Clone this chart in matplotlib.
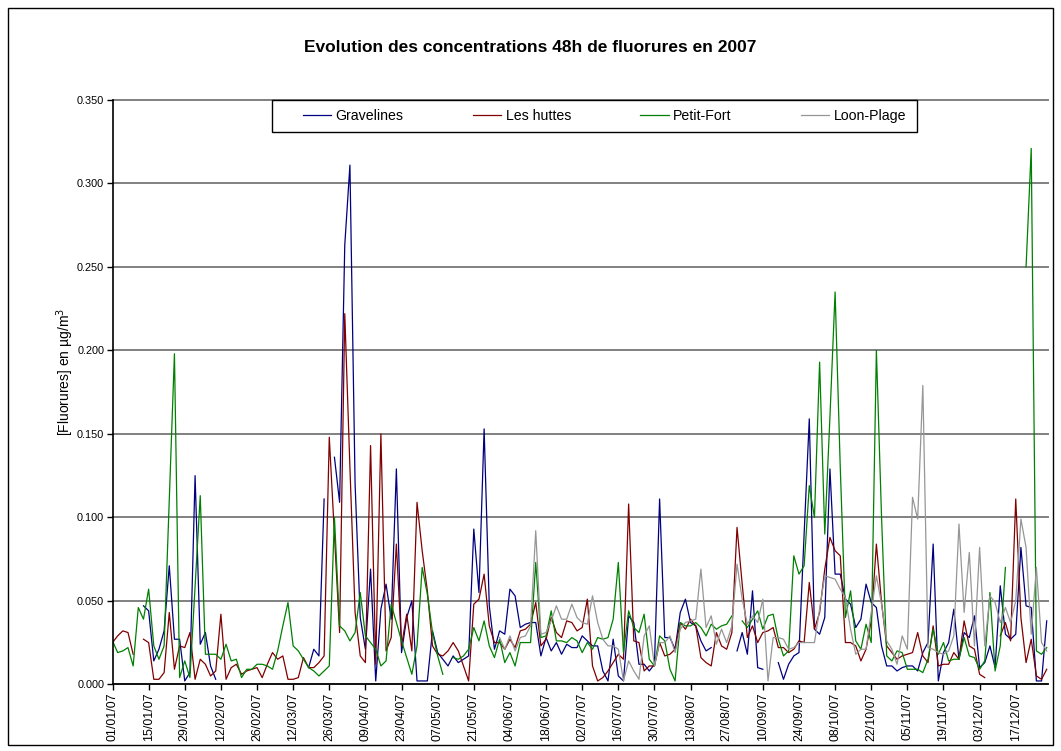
import numpy as np
import pandas as pd
import matplotlib
matplotlib.use("Agg")
import matplotlib.pyplot as plt
import matplotlib.dates as mdates
from matplotlib.patches import Rectangle
from matplotlib.ticker import FormatStrFormatter, MultipleLocator

plt.rcParams['font.family'] = ['Liberation Sans', 'DejaVu Sans']

# one 48h sample every two days
dates = pd.date_range('2007-01-01', periods=182, freq='2D')

gravelines = [
    None, None, None, None, None, None, 0.047, 0.044, 0.014, 0.021,
    0.032, 0.071, 0.027, 0.027, 0.002, 0.007, 0.125, 0.024, 0.031, 0.011,
    0.003, None, None, None, None, None, None, None, None, None,
    None, None, None, None, None, None, None, None, 0.010, 0.021,
    0.017, 0.111, None, 0.136, 0.109, 0.263, 0.311, 0.120, 0.040, 0.021,
    0.069, 0.002, 0.045, 0.060, 0.039, 0.129, 0.019, 0.040, 0.050, 0.002,
    0.002, 0.002, 0.032, 0.019, 0.015, 0.011, 0.017, 0.013, 0.015, 0.017,
    0.093, 0.055, 0.153, 0.047, 0.021, 0.032, 0.030, 0.057, 0.053, 0.034,
    0.036, 0.037, 0.037, 0.017, 0.028, 0.020, 0.025, 0.018, 0.024, 0.022,
    0.022, 0.029, 0.026, 0.023, 0.023, 0.008, 0.002, 0.027, 0.005, 0.002,
    0.041, 0.037, 0.012, 0.012, 0.008, 0.012, 0.111, 0.028, 0.028, 0.021,
    0.043, 0.051, 0.037, 0.035, 0.026, 0.020, 0.022, None, None, None,
    None, 0.020, 0.031, 0.018, 0.056, 0.010, 0.009, None, None, 0.013,
    0.003, 0.012, 0.017, 0.019, 0.090, 0.159, 0.033, 0.030, 0.040, 0.129,
    0.066, 0.066, 0.051, 0.048, 0.034, 0.039, 0.060, 0.049, 0.046, 0.023,
    0.011, 0.011, 0.008, 0.010, 0.011, 0.011, 0.008, 0.019, 0.025, 0.084,
    0.002, 0.019, 0.025, 0.045, 0.015, 0.031, 0.028, 0.041, 0.010, 0.013,
    0.023, 0.010, 0.059, 0.030, 0.027, 0.030, 0.082, 0.047, 0.046, 0.002,
    0.002, 0.038,
]

les_huttes = [
    0.025, 0.029, 0.032, 0.031, 0.018, None, 0.027, 0.025, 0.003, 0.003,
    0.007, 0.043, 0.009, 0.023, 0.022, 0.031, 0.003, 0.015, 0.012, 0.005,
    0.008, 0.042, 0.003, 0.010, 0.012, 0.006, 0.008, 0.009, 0.010, 0.004,
    0.012, 0.019, 0.015, 0.017, 0.003, 0.003, 0.004, 0.016, 0.010, 0.010,
    0.013, 0.017, 0.148, 0.090, 0.031, 0.222, 0.130, 0.043, 0.017, 0.013,
    0.143, 0.012, 0.150, 0.020, 0.028, 0.084, 0.023, 0.042, 0.020, 0.109,
    0.080, 0.056, 0.023, 0.018, 0.017, 0.020, 0.025, 0.020, 0.011, 0.002,
    0.048, 0.051, 0.066, 0.035, 0.025, 0.025, 0.021, 0.027, 0.022, 0.032,
    0.033, 0.036, 0.049, 0.023, 0.027, 0.040, 0.031, 0.028, 0.038, 0.037,
    0.032, 0.034, 0.051, 0.011, 0.002, 0.004, 0.008, 0.013, 0.018, 0.015,
    0.108, 0.026, 0.025, 0.008, 0.011, 0.011, 0.025, 0.017, 0.018, 0.021,
    0.037, 0.033, 0.039, 0.035, 0.016, 0.013, 0.011, 0.031, 0.023, 0.021,
    0.031, 0.094, 0.060, 0.028, 0.035, 0.025, 0.031, 0.032, 0.034, 0.022,
    0.022, 0.019, 0.021, 0.026, 0.025, 0.061, 0.033, 0.043, 0.069, 0.088,
    0.080, 0.077, 0.025, 0.025, 0.023, 0.014, 0.021, 0.038, 0.084, 0.049,
    0.023, 0.019, 0.015, 0.017, 0.018, 0.019, 0.031, 0.017, 0.013, 0.035,
    0.011, 0.012, 0.012, 0.019, 0.015, 0.038, 0.023, 0.021, 0.006, 0.004,
    None, None, 0.029, 0.037, 0.026, 0.111, 0.040, 0.013, 0.027, 0.005,
    0.003, 0.009,
]

petit_fort = [
    0.026, 0.019, 0.020, 0.022, 0.011, 0.046, 0.039, 0.057, 0.023, 0.015,
    0.023, 0.110, 0.198, 0.004, 0.014, 0.004, 0.058, 0.113, 0.018, 0.018,
    0.018, 0.015, 0.024, 0.014, 0.015, 0.004, 0.009, 0.009, 0.012, 0.012,
    0.011, 0.009, 0.020, 0.035, 0.049, 0.023, 0.020, 0.015, 0.010, 0.008,
    0.005, 0.008, 0.011, 0.100, 0.035, 0.032, 0.026, 0.031, 0.055, 0.029,
    0.025, 0.021, 0.011, 0.014, 0.048, 0.037, 0.026, 0.016, 0.006, 0.023,
    0.070, 0.054, 0.031, 0.017, 0.006, None, 0.016, 0.015, 0.017, 0.021,
    0.034, 0.026, 0.038, 0.023, 0.016, 0.027, 0.013, 0.019, 0.011, 0.025,
    0.025, 0.025, 0.073, 0.028, 0.029, 0.044, 0.026, 0.026, 0.025, 0.028,
    0.026, 0.019, 0.025, 0.021, 0.028, 0.027, 0.028, 0.039, 0.073, 0.019,
    0.044, 0.034, 0.031, 0.042, 0.015, 0.011, 0.029, 0.026, 0.009, 0.002,
    0.037, 0.035, 0.035, 0.037, 0.034, 0.029, 0.036, 0.033, 0.035, 0.036,
    0.041, None, 0.038, 0.034, 0.039, 0.044, 0.033, 0.041, 0.042, 0.027,
    0.017, 0.020, 0.077, 0.066, 0.071, 0.119, 0.100, 0.193, 0.090, 0.160,
    0.235, 0.130, 0.040, 0.056, 0.026, 0.021, 0.036, 0.025, 0.200, 0.100,
    0.017, 0.014, 0.020, 0.019, 0.009, 0.009, 0.009, 0.007, 0.015, 0.033,
    0.018, 0.025, 0.014, 0.015, 0.015, 0.028, 0.017, 0.016, 0.009, 0.014,
    0.055, 0.008, 0.023, 0.070, None, None, None, 0.250, 0.321, 0.020,
    0.018, 0.022,
]

loon_plage = [None] * 75 + [
    0.028, 0.021, 0.029, 0.020, 0.028,
    0.029, 0.035, 0.092, 0.030, 0.031, 0.038, 0.047, 0.039, 0.039, 0.048,
    0.040, 0.037, 0.036, 0.053, 0.037, 0.027, 0.023, 0.023, 0.021, 0.002,
    0.014, 0.008, 0.003, 0.029, 0.035, 0.011, 0.025, 0.025, 0.029, 0.019,
    0.033, 0.037, 0.038, 0.039, 0.069, 0.034, 0.041, 0.024, 0.033, 0.025,
    0.035, 0.072, 0.051, 0.036, 0.041, 0.037, 0.051, 0.002, 0.028, 0.028,
    0.027, 0.021, 0.022, 0.025, 0.025, 0.025, 0.025, 0.045, 0.065, 0.064,
    0.063, 0.057, 0.052, 0.033, 0.018, 0.021, 0.021, 0.043, 0.065, 0.048,
    0.026, 0.021, 0.012, 0.029, 0.021, 0.112, 0.099, 0.179, 0.022, 0.021,
    0.019, 0.018, 0.020, 0.029, 0.096, 0.043, 0.079, 0.023, 0.082, 0.023,
    0.053, 0.049, 0.037, 0.046, 0.037, 0.050, 0.099, 0.082, 0.030, 0.070,
    0.025, 0.020,
]

series = [
    ('Gravelines', gravelines, '#000080'),
    ('Les huttes', les_huttes, '#800000'),
    ('Petit-Fort', petit_fort, '#008000'),
    ('Loon-Plage', loon_plage, '#969696'),
]

W, H = 1061, 751
fig = plt.figure(figsize=(W / 100, H / 100), dpi=100)
# plot area in pixels: left, right, top, bottom
px_l, px_r, px_t, px_b = 112.5, 1048, 100, 684.3
ax = fig.add_axes([px_l / W, (H - px_b) / H, (px_r - px_l) / W, (px_b - px_t) / H])

for name, vals, col in series:
    ax.plot(dates, np.array(vals, dtype=float), color=col, lw=0.9, label=name)

start = pd.Timestamp('2007-01-01')
end = start + pd.Timedelta(days=362.5)
ax.set_xlim(start, end)
ax.set_ylim(0, 0.35)

ticks = pd.date_range(start, end, freq='14D')
ax.set_xticks(ticks)
ax.xaxis.set_major_formatter(mdates.DateFormatter('%d/%m/%y'))
ax.yaxis.set_major_locator(MultipleLocator(0.05))
ax.yaxis.set_major_formatter(FormatStrFormatter('%.3f'))
ax.tick_params(axis='x', labelrotation=90, labelsize=8.9, length=4, width=1, pad=2)
ax.tick_params(axis='y', labelsize=7.8, length=4, width=1, pad=2)

ax.grid(axis='y', color='#808080', lw=1.4, clip_on=False)
ax.set_axisbelow(True)
for s in ('top', 'right'):
    ax.spines[s].set_visible(False)
for s in ('left', 'bottom'):
    ax.spines[s].set_color('black')
    ax.spines[s].set_linewidth(1.2)

ax.set_ylabel('[Fluorures] en µg/m$^3$', fontsize=10)
# axis title sits a little above the middle of the axis
ax.yaxis.set_label_coords((76 - px_l) / (px_r - px_l), (px_b - 372) / (px_b - px_t))
fig.text(0.5, (H - 47) / H, 'Evolution des concentrations 48h de fluorures en 2007',
         ha='center', va='center', fontsize=12.5, fontweight='bold')

# legend box, entries spread across it
leg_l, leg_r, leg_t, leg_b = 272, 917, 100, 132
fig.patches.append(Rectangle((leg_l / W, (H - leg_b) / H), (leg_r - leg_l) / W, (leg_b - leg_t) / H,
                             transform=fig.transFigure, facecolor='white', edgecolor='black',
                             lw=1.0, zorder=3))
leg = fig.legend(loc='center left', ncol=4, mode='expand', fontsize=10.2, frameon=False,
                 bbox_to_anchor=(303 / W, (H - 116) / H, (906 - 303) / W, 0),
                 borderaxespad=0, borderpad=0, handlelength=2.0, handletextpad=0.3)
leg.set_zorder(4)

# chart border
fig.patches.append(Rectangle((8 / W, 6 / H), (W - 16) / W, (H - 14) / H, transform=fig.transFigure,
                             fill=False, edgecolor='black', lw=1.0))

fig.savefig('out.png', dpi=100)
